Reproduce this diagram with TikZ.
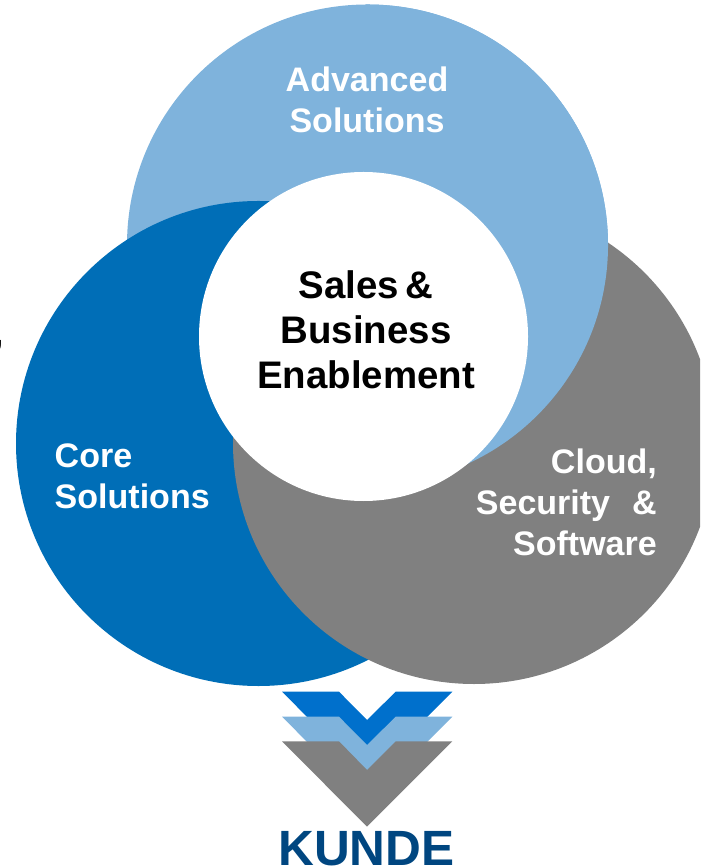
\documentclass[tikz,border=0pt]{standalone}
\usepackage{fontspec}
\setmainfont{Liberation Sans}
\usetikzlibrary{positioning}
\definecolor{lightblue}{HTML}{7FB3DC}
\definecolor{coreblue}{HTML}{006EB7}
\definecolor{arrowblue}{HTML}{0070CC}
\definecolor{midgray}{HTML}{808080}
\definecolor{navy}{HTML}{004680}
\tikzset{
  disc/.style={circle, inner sep=0pt, minimum size=#1},
  whitelabel/.style={text=white, font=\fontsize{9.68}{11.75}\selectfont\bfseries},
  blacklabel/.style={text=black, align=center, font=\fontsize{10.93}{12.8}\selectfont\bfseries}
}

\begin{document}
\begin{tikzpicture}
  \useasboundingbox (0,0) rectangle (7,-8.67);
  \clip (0,0) rectangle (7,-8.67);
  \node (advanced) [disc=4.81cm, fill=lightblue] at (3.675,-2.45) {};
  \node (core) [disc=4.85cm, fill=coreblue] at (2.585,-4.435) {};
  \node (cloud) [disc=4.82cm, fill=midgray] at (4.74,-4.43) {};
  % light disc lies over the gray one on the right
  \begin{scope}
    \clip (3.66,0) rectangle (7,-8.67);
    \node (advancedtop) [disc=4.81cm, fill=lightblue] at (3.675,-2.45) {};
  \end{scope}
  \node (enable) [disc=3.29cm, fill=white] at (3.635,-3.365) {};
  \node (sales) [blacklabel] at (3.66,-3.295) {Sales\,\&\\Business\\Enablement};
  \node (advtext) [whitelabel, align=center] at (3.67,-0.995) {Advanced\\Solutions};
  \node (coretext) [whitelabel, align=left, anchor=west, inner sep=0pt] at (0.54,-4.76) {Core\\Solutions};
  \node (cloudtext) [whitelabel, align=right, anchor=east, inner sep=0pt] at (6.575,-5.025) {Cloud,\\Security\ \ \hspace{0.9pt}\&\\Software};
  \node (comma) [anchor=east, inner sep=0pt, font=\fontsize{9.68}{11.75}\selectfont\bfseries] at (0.04,-3.46) {,};
  % chevrons
  \fill[arrowblue] (2.82,-6.917) -- (3.39,-6.917) -- (3.67,-7.2) -- (3.957,-6.917) -- (4.523,-6.917) -- (3.67,-7.77) -- cycle;
  \fill[lightblue] (2.82,-7.167) -- (3.39,-7.167) -- (3.67,-7.45) -- (3.957,-7.167) -- (4.523,-7.167) -- (3.67,-8.02) -- cycle;
  \fill[midgray] (2.82,-7.413) -- (3.39,-7.413) -- (3.67,-7.7) -- (3.957,-7.413) -- (4.523,-7.413) -- (3.67,-8.267) -- cycle;
  \node (kunde) [text=navy, inner sep=0pt, font=\fontsize{14.1}{16}\selectfont\bfseries] at (3.665,-8.485) {KUNDE};
\end{tikzpicture}
\end{document}
